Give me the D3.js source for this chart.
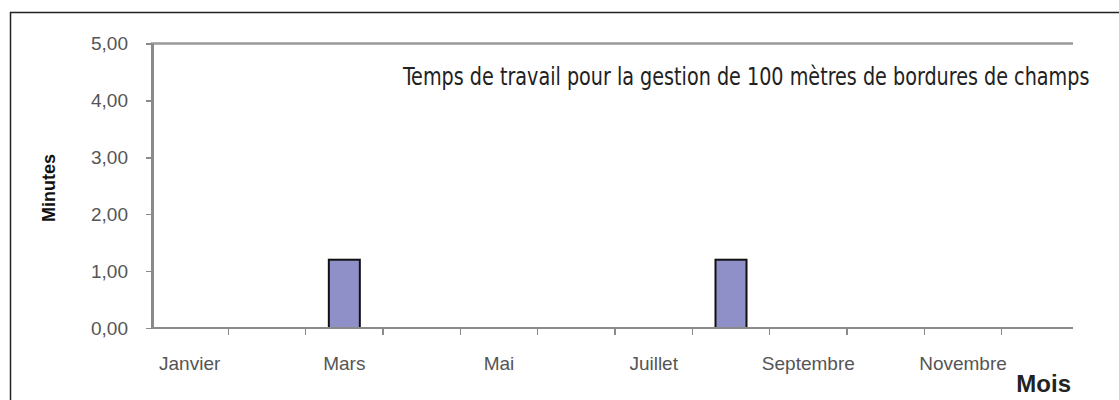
<!DOCTYPE html>
<meta charset="utf-8">
<style>
    body { margin: 0; background: #fff; }
    svg { display: block; }
    .tick text { font-family: "Liberation Sans", Arial, sans-serif; font-size: 19px; fill: #555; }
    .axis path, .axis line { stroke: #8a8a8a; shape-rendering: crispEdges; }
</style>
<body>
<script src="https://d3js.org/d3.v7.min.js"></script>
<script>

    var months = ["Janvier", "Février", "Mars", "Avril", "Mai", "Juin",
                  "Juillet", "Août", "Septembre", "Octobre", "Novembre", "Décembre"];
    var minutes = [0, 0, 1.2, 0, 0, 0, 0, 1.2, 0, 0, 0, 0];
    var yTicks = [0, 1, 2, 3, 4, 5];
    var title = "Temps de travail pour la gestion de 100 mètres de bordures de champs";

    var width = 1119,
        height = 400;

    var svg = d3.select("body").append("svg")
        .attr("width", width)
        .attr("height", height);

    // outer frame (only top and left visible)
    svg.append("path")
        .attr("d", "M10.5," + height + "V12.5H" + width)
        .attr("fill", "none")
        .attr("stroke", "#222")
        .attr("stroke-width", 1.5);

    var x = d3.scaleBand()
        .domain(months)
        .range([151, 1079]);

    var y = d3.scaleLinear()
        .domain([0, 5])
        .range([328, 43.5]);

    var fmt = function(d) { return d3.format(".2f")(d).replace(".", ","); };

    // top line at 5,00
    svg.append("line")
        .attr("x1", 151).attr("x2", 1073)
        .attr("y1", y(5)).attr("y2", y(5))
        .attr("stroke", "#999")
        .attr("stroke-width", 2.5);

    // y axis
    var yAxis = svg.append("g")
        .attr("class", "axis")
        .attr("transform", "translate(152,0)")
        .call(d3.axisLeft(y).tickValues(yTicks).tickFormat(fmt).tickSizeInner(6).tickSizeOuter(0).tickPadding(18));
    yAxis.select(".domain").attr("stroke-width", 2.5);
    yAxis.selectAll(".tick line").attr("stroke-width", 1.5);

    // bars
    var data = months.map(function(m, i) { return {month: m, value: minutes[i]}; });

    svg.append("g").selectAll("rect")
        .data(data.filter(function(d) { return d.value > 0; }))
        .enter().append("rect")
        .attr("x", function(d) { return x(d.month) + x.bandwidth() / 2 - 15.5; })
        .attr("width", 31)
        .attr("y", function(d) { return y(d.value); })
        .attr("height", function(d) { return y(0) - y(d.value); })
        .attr("fill", "#8f90c8")
        .attr("stroke", "#111")
        .attr("stroke-width", 2);

    // x axis: ticks between months, labels every other month
    var xg = svg.append("g")
        .attr("class", "axis")
        .attr("transform", "translate(0," + y(0) + ")");

    xg.append("line")
        .attr("x1", 151).attr("x2", 1073)
        .attr("stroke", "#6f6f6f")
        .attr("stroke-width", 2.5);

    xg.selectAll("line.tk")
        .data(months.slice(1))
        .enter().append("line")
        .attr("class", "tk")
        .attr("x1", function(d) { return x(d); })
        .attr("x2", function(d) { return x(d); })
        .attr("y1", 0).attr("y2", 7)
        .attr("stroke-width", 1.5);

    xg.selectAll("text")
        .data(months.filter(function(d, i) { return i % 2 === 0; }))
        .enter().append("text")
        .attr("x", function(d) { return x(d) + x.bandwidth() / 2; })
        .attr("y", 42)
        .attr("text-anchor", "middle")
        .style("font-family", "'Liberation Sans', Arial, sans-serif")
        .style("font-size", "19px")
        .style("fill", "#555")
        .text(function(d) { return d; });

    // axis titles
    svg.append("text")
        .attr("transform", "translate(55,188) rotate(-90)")
        .attr("text-anchor", "middle")
        .style("font-family", "'Liberation Sans', Arial, sans-serif")
        .style("font-weight", "bold")
        .style("font-size", "18px")
        .style("fill", "#111")
        .text("Minutes");

    svg.append("text")
        .attr("x", 1071)
        .attr("y", 392)
        .attr("text-anchor", "end")
        .style("font-family", "'Liberation Sans', Arial, sans-serif")
        .style("font-weight", "bold")
        .style("font-size", "24px")
        .style("fill", "#222")
        .text("Mois");

    // chart title, squeezed horizontally to the narrow width of the original
    var titleText = svg.append("text")
        .attr("x", 0)
        .attr("y", 0)
        .style("font-family", "'Liberation Sans Narrow', 'DejaVu Sans Condensed', sans-serif")
        .style("font-size", "24px")
        .style("fill", "#222")
        .text(title);
    var natural = titleText.node().getComputedTextLength();
    titleText.attr("transform", "translate(403,85) scale(" + (687 / natural) + ",1)");

</script>
